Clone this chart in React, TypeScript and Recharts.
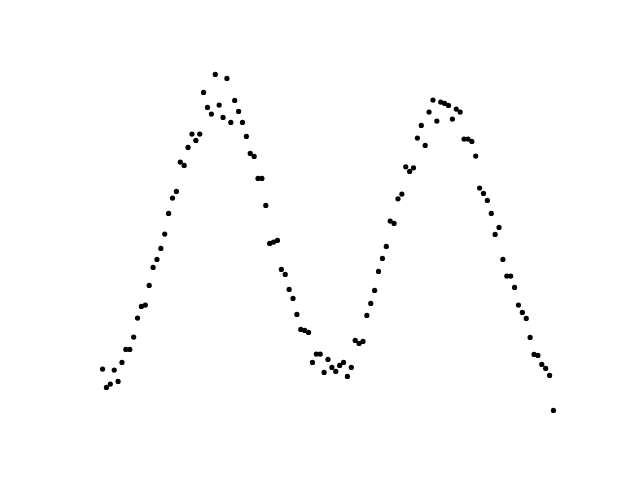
import React from "react";
import { ScatterChart, Scatter, XAxis, YAxis } from "recharts";

// sample index along the horizontal axis
const xs: number[] = Array.from({ length: 117 }, (_, i) => i);

// measured signal values
const ys: number[] = [
  61, 42.7, 46, 60, 48.7, 67.7, 80.7, 80.7, 93, 112,
  123.7, 125, 144.7, 162.7, 170.7, 181.7, 196, 216.7, 232, 238.7,
  268, 264.7, 282.7, 296, 289.7, 296, 337.7, 322.7, 316, 355.7,
  325, 312.7, 351.7, 307.7, 329.7, 318.7, 307.7, 293.7, 276.7, 273.7,
  251.7, 251.7, 224.7, 186.7, 188, 189.7, 160.7, 155.7, 140.7, 131.7,
  115.7, 100.7, 99.7, 97.7, 67.7, 76, 76, 57.7, 70.7, 62.7,
  58.7, 64.7, 67.7, 53.7, 62.7, 89.7, 86.7, 88.7, 114.7, 126.7,
  139.7, 158.7, 171.7, 183.7, 209, 206.7, 231.3, 236, 263.3, 258.7,
  262.3, 292, 304.7, 284.7, 318, 330, 309, 328, 326.7, 324.7,
  311, 321, 318, 291, 291, 288.7, 274, 242, 236.7, 229.7,
  216.7, 195.7, 202.7, 170.7, 154, 154, 142.7, 125, 117.7, 111.7,
  92.7, 75.7, 74.7, 65.7, 61.7, 54.7, 19.7,
];

const data = xs.map((x, i) => ({ x, y: ys[i] }));

const pad = (lo: number, hi: number): [number, number] => {
  const m = (hi - lo) * 0.05;
  return [lo - m, hi + m];
};

const xDomain = pad(Math.min(...xs), Math.max(...xs));
const yDomain = pad(Math.min(...ys), Math.max(...ys));

const Dot = (props: any) => <circle cx={props.cx} cy={props.cy} r={2.6} fill="#000" />;

export default function App() {
  return (
    <div style={{ width: 640, height: 480, background: "#fff" }}>
      <style>{`body{margin:0}`}</style>
      <ScatterChart
        width={640}
        height={480}
        margin={{ top: 57.6, right: 64, bottom: 52.8, left: 80 }}
      >
        <XAxis type="number" dataKey="x" domain={xDomain} hide allowDataOverflow />
        <YAxis type="number" dataKey="y" domain={yDomain} hide allowDataOverflow />
        <Scatter data={data} shape={<Dot />} isAnimationActive={false} />
      </ScatterChart>
    </div>
  );
}
